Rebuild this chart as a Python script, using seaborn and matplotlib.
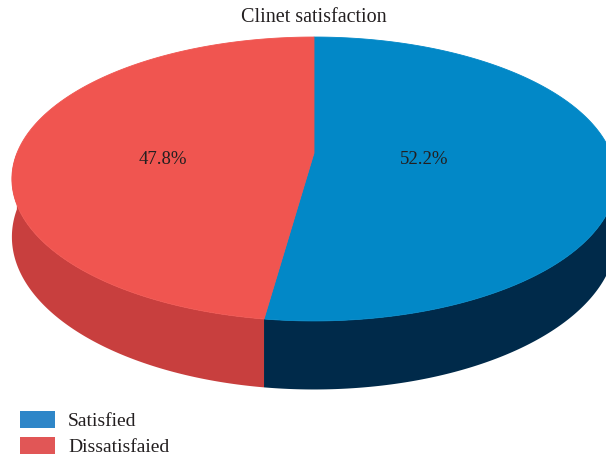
import numpy as np
import matplotlib
matplotlib.use("Agg")
import matplotlib.pyplot as plt
from matplotlib.patches import Patch
import seaborn as sns

# ---- data ----
title = "Clinet satisfaction"
categories = ["Satisfied", "Dissatisfaied"]
values = [52.2, 47.8]

# ---- style ----
top_colors = ["#0288C7", "#F05550"]
side_colors = ["#002A4A", "#C83F3E"]
legend_colors = ["#2E86C8", "#E15656"]
label_r = [0.37, 0.51]
serif = ["Liberation Serif", "DejaVu Serif"]
text_color = "#231F20"

sns.set_theme(style="white")
plt.rcParams["font.family"] = serif

# perspective geometry (pixel space)
CX, VY = 314.0, 153.0      # projected centre
A = 297.0                  # horizontal radius
C = 0.183                  # perspective factor
Q = -109.2                 # vertical scale
DEPTH = 56.0               # wall height at centre depth


def proj(u, v):
    w = 1.0 + C * v
    return CX + A * u / w, (VY + Q * v) / w


def wall(v):
    return DEPTH / (1.0 + C * v)


fig = plt.figure(figsize=(6.06, 4.57), dpi=100)
ax = fig.add_axes([0, 0, 1, 1])
ax.set_xlim(0, 606)
ax.set_ylim(457, 0)
ax.axis("off")

# slice angles: start at top (90 deg), go clockwise
total = sum(values)
starts, ends = [], []
a = 90.0
for val in values:
    starts.append(a)
    a -= val / total * 360.0
    ends.append(a)

# side walls (front half only)
for i in range(len(values)):
    hi, lo = starts[i], ends[i]
    t = np.linspace(lo, hi, 400)
    tt = np.mod(t, 360.0)
    mask = (tt >= 180.0) & (tt <= 360.0)
    if not mask.any():
        continue
    tr = np.radians(t[mask])
    u, v = np.cos(tr), np.sin(tr)
    x, y = proj(u, v)
    yb = y + wall(v)
    xs = np.concatenate([x, x[::-1]])
    ys = np.concatenate([y, yb[::-1]])
    ax.fill(xs, ys, color=side_colors[i], lw=0, zorder=1)

# top faces
for i in range(len(values)):
    t = np.radians(np.linspace(ends[i], starts[i], 400))
    x, y = proj(np.cos(t), np.sin(t))
    cx0, cy0 = proj(0.0, 0.0)
    xs = np.concatenate([[cx0], x, [cx0]])
    ys = np.concatenate([[cy0], y, [cy0]])
    ax.fill(xs, ys, color=top_colors[i], lw=0.6, ec=top_colors[i], zorder=2)
    # label along the horizontal centre line
    mid = np.radians((starts[i] + ends[i]) / 2.0)
    lx, ly = proj(label_r[i] * np.cos(mid), 0.0)
    ax.text(lx, ly + 7, f"{values[i]}%", ha="center", va="center",
            fontsize=13.5, color=text_color, zorder=3)

ax.text(314, 18, title, ha="center", va="center", fontsize=14.5,
        color=text_color)

handles = [Patch(facecolor=c, edgecolor="none") for c in legend_colors]
fig.legend(handles, categories, loc="upper left",
           bbox_to_anchor=(20 / 606, 1 - 411 / 457), frameon=False,
           borderpad=0, borderaxespad=0, handlelength=1.8, handleheight=1.0,
           handletextpad=0.67, labelspacing=0.32, fontsize=14,
           labelcolor=text_color)

fig.savefig("out.png", dpi=100)
